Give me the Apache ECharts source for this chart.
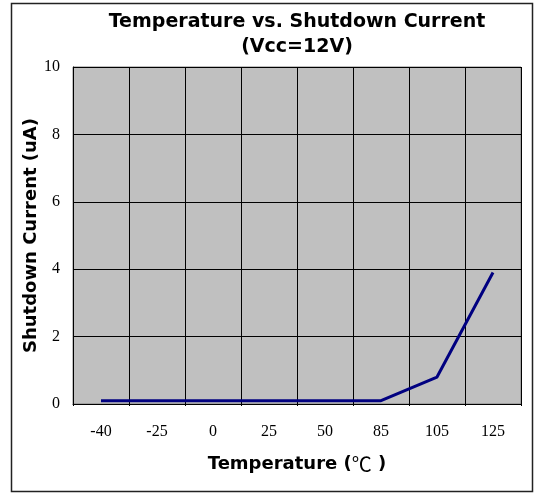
<!DOCTYPE html>
<html>
<head>
<meta charset="utf-8">
<script src="https://cdn.jsdelivr.net/npm/echarts@6/dist/echarts.min.js"></script>
<style>
html,body{margin:0;padding:0;background:#fff;}
#chart{width:536px;height:493px;}
</style>
</head>
<body>
<div id="chart"></div>
<script>
const categories = ['-40', '-25', '0', '25', '50', '85', '105', '125'];
const currentValues = [0.1, 0.1, 0.1, 0.1, 0.1, 0.1, 0.8, 3.9];
const titleLines = ['Temperature vs. Shutdown Current', '(Vcc=12V)'];
const xAxisTitle = 'Temperature ({c|℃} )';
const yAxisTitle = 'Shutdown Current (uA)';

const chart = echarts.init(document.getElementById('chart'), null, {renderer: 'canvas'});
const serif = '"Liberation Serif", "Times New Roman", serif';
const sans = '"DejaVu Sans", Arial, "Noto Sans CJK TC", sans-serif';
chart.setOption({
  animation: false,
  backgroundColor: '#fff',
  graphic: [
    {type: 'rect', shape: {x: 11.5, y: 3.5, width: 521, height: 488}, style: {fill: 'none', stroke: '#222', lineWidth: 1.5}, silent: true},
    {type: 'text', x: 297, y: 22, style: {text: titleLines[0], font: 'bold 19px ' + sans, fill: '#000', textAlign: 'center', textVerticalAlign: 'middle'}},
    {type: 'text', x: 297, y: 47, style: {text: titleLines[1], font: 'bold 19px ' + sans, fill: '#000', textAlign: 'center', textVerticalAlign: 'middle'}}
  ],
  grid: {left: 73, right: 15, top: 67, bottom: 89, show: true, backgroundColor: '#c0c0c0', borderColor: '#808080', borderWidth: 1},
  xAxis: {
    type: 'category',
    data: categories,
    boundaryGap: true,
    axisLine: {show: true, lineStyle: {color: '#000', width: 1}},
    axisTick: {show: true, length: 2, lineStyle: {color: '#000'}},
    splitLine: {show: true, lineStyle: {color: '#000', width: 1}},
    axisLabel: {color: '#000', fontFamily: serif, fontSize: 16, margin: 20},
    name: xAxisTitle,
    nameLocation: 'middle',
    nameGap: 50,
    nameTextStyle: {
      color: '#000', fontFamily: sans, fontWeight: 'bold', fontSize: 18,
      rich: {c: {fontFamily: '"Noto Sans CJK TC", sans-serif', fontWeight: 'normal', fontSize: 20, color: '#000'}}
    }
  },
  yAxis: {
    type: 'value',
    min: 0, max: 10, interval: 2,
    axisLine: {show: true, lineStyle: {color: '#000', width: 1}},
    axisTick: {show: false},
    splitLine: {show: true, lineStyle: {color: '#000', width: 1}},
    axisLabel: {color: '#000', fontFamily: serif, fontSize: 16, margin: 13},
    name: yAxisTitle,
    nameLocation: 'middle',
    nameGap: 33,
    nameMoveOverlap: false,
    nameTextStyle: {color: '#000', fontFamily: sans, fontWeight: 'bold', fontSize: 18}
  },
  series: [{
    type: 'line',
    data: currentValues,
    symbol: 'none',
    lineStyle: {color: '#000080', width: 3},
    itemStyle: {color: '#000080'}
  }]
});
</script>
</body>
</html>
